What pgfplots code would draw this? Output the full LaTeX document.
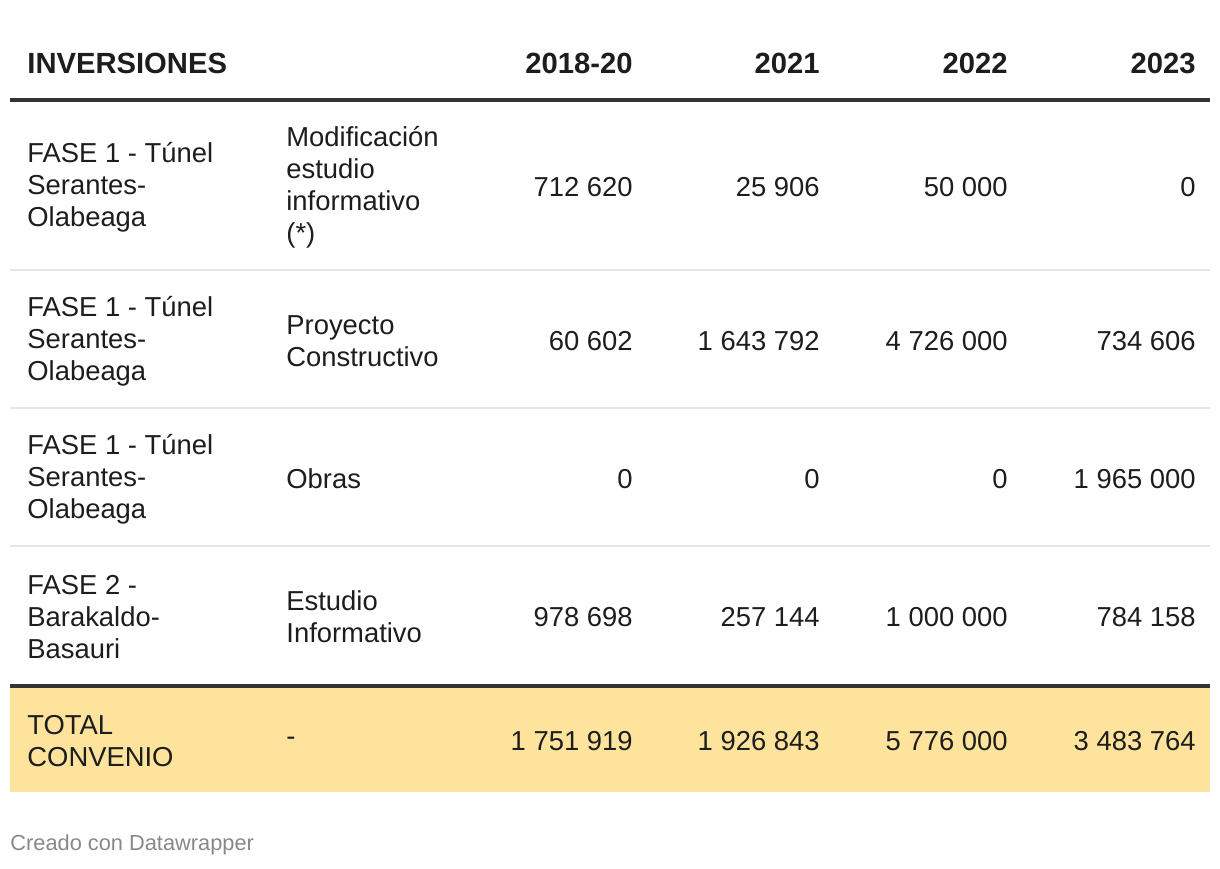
\documentclass[border=0pt]{standalone}
\usepackage{fontspec}
\setmainfont{Liberation Sans}
\usepackage{pgfplots}
\pgfplotsset{compat=1.18}
\definecolor{txt}{HTML}{1D1D1D}
\definecolor{rule}{HTML}{333333}
\definecolor{sep}{HTML}{E6E6E6}
\definecolor{hl}{HTML}{FEE39D}
\definecolor{foot}{HTML}{888888}
\newcommand{\cell}{\fontsize{13.7}{16}\selectfont}
\newcommand{\head}{\fontsize{14.6}{16}\selectfont\bfseries}
\pgfplotsset{
  num/.style={draw=none, mark=none, nodes near coords, point meta=explicit symbolic,
    every node near coord/.append style={anchor=east, inner sep=0pt, text=txt, font=\cell}},
}
\begin{document}
\begin{tikzpicture}
\begin{axis}[
  scale only axis, width=610pt, height=434pt,
  xmin=0, xmax=1220, ymin=0, ymax=868, y dir=reverse,
  hide axis, clip=false,
]
% background extent
\addplot[draw=none] coordinates {(0,0) (1220,868)};
% highlighted total row
\addplot[fill=hl, draw=none] coordinates {(10,688) (1210,688) (1210,792) (10,792)} -- cycle;
% rules
\addplot[draw=rule, line width=2pt] coordinates {(10,100) (1210,100)};
\addplot[draw=sep, line width=0.6pt] coordinates {(10,270) (1210,270)};
\addplot[draw=sep, line width=0.6pt] coordinates {(10,408) (1210,408)};
\addplot[draw=sep, line width=0.6pt] coordinates {(10,546) (1210,546)};
\addplot[draw=rule, line width=2pt] coordinates {(10,686) (1210,686)};

% header
\node[anchor=west, inner sep=0pt, text=txt, font=\head] at (axis cs:27,63) {INVERSIONES};
\addplot[num, every node near coord/.append style={font=\head}] coordinates {
  (633,63) [2018-20] (820,63) [2021] (1008,63) [2022] (1196,63) [2023]};

% row labels
\begin{scope}[every node/.style={anchor=west, inner sep=0pt, align=left, text=txt, font=\cell}]
\node at (axis cs:27,187) {FASE 1 - Túnel\\Serantes-\\Olabeaga};
\node at (axis cs:286,187) {Modificación\\estudio\\informativo\\(*)};
\node at (axis cs:27,341) {FASE 1 - Túnel\\Serantes-\\Olabeaga};
\node at (axis cs:286,341) {Proyecto\\Constructivo};
\node at (axis cs:27,479) {FASE 1 - Túnel\\Serantes-\\Olabeaga};
\node at (axis cs:286,479) {Obras};
\node at (axis cs:27,617) {FASE 2 -\\Barakaldo-\\Basauri};
\node at (axis cs:286,617) {Estudio\\Informativo};
\node at (axis cs:27,741) {TOTAL\\CONVENIO};
\node at (axis cs:286,741) {-};
\end{scope}

% values: 2018-20
\addplot[num] coordinates {
  (633,187) [712 620] (633,341) [60 602] (633,479) [0] (633,617) [978 698] (633,741) [1 751 919]};
% 2021
\addplot[num] coordinates {
  (820,187) [25 906] (820,341) [1 643 792] (820,479) [0] (820,617) [257 144] (820,741) [1 926 843]};
% 2022
\addplot[num] coordinates {
  (1008,187) [50 000] (1008,341) [4 726 000] (1008,479) [0] (1008,617) [1 000 000] (1008,741) [5 776 000]};
% 2023
\addplot[num] coordinates {
  (1196,187) [0] (1196,341) [734 606] (1196,479) [1 965 000] (1196,617) [784 158] (1196,741) [3 483 764]};

% footer
\node[anchor=west, inner sep=0pt, text=foot, font=\fontsize{10.9}{12}\selectfont] at (axis cs:10,845) {Creado con Datawrapper};
\end{axis}
\end{tikzpicture}
\end{document}
